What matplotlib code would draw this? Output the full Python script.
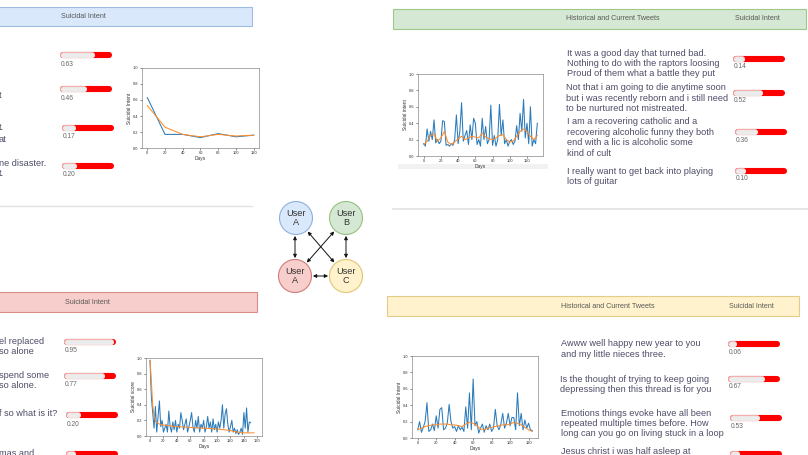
import numpy as np
import matplotlib
matplotlib.use("Agg")
import matplotlib.pyplot as plt
from matplotlib.patches import Rectangle, Circle

plt.rcParams['font.family'] = ['Liberation Sans', 'DejaVu Sans']

W, H = 808, 455

# ---------------- data ----------------
# top-left user (blue)
tl_days = [0, 20, 40, 60, 80, 100, 120]
tl_blue = [0.63, 0.17, 0.17, 0.13, 0.18, 0.14, 0.16]
tl_orange = [0.53, 0.26, 0.17, 0.14, 0.17, 0.15, 0.16]
tl_scores = [0.63, 0.46, 0.17, 0.20]
tl_fragments = ["t", "t.", "at", "ne disaster.", "t."]

# top-right user (green)
tr_days = list(range(0, 133, 2))
tr_blue = [0.15, 0.12, 0.33, 0.18, 0.30, 0.20, 0.44, 0.16, 0.20, 0.15,
           0.18, 0.43, 0.42, 0.13, 0.14, 0.12, 0.15, 0.13, 0.20, 0.50,
           0.15, 0.30, 0.65, 0.18, 0.25, 0.31, 0.14, 0.38, 0.20, 0.46,
           0.40, 0.14, 0.20, 0.12, 0.46, 0.20, 0.36, 0.15, 0.20, 0.62,
           0.13, 0.25, 0.12, 0.20, 0.63, 0.25, 0.44, 0.15, 0.20, 0.12,
           0.18, 0.20, 0.14, 0.18, 0.37, 0.20, 0.52, 0.30, 0.69, 0.22,
           0.40, 0.15, 0.60, 0.12, 0.20, 0.15, 0.40]
tr_odays = list(range(0, 133, 4))
tr_orange = [0.14, 0.18, 0.25, 0.27, 0.18, 0.22, 0.30, 0.17, 0.14, 0.17,
             0.21, 0.24, 0.20, 0.22, 0.24, 0.23, 0.22, 0.28, 0.23, 0.21,
             0.20, 0.22, 0.25, 0.26, 0.20, 0.17, 0.18, 0.24, 0.30, 0.33,
             0.30, 0.24, 0.20, 0.25]
tr_tweets = ["It was a good day that turned bad.\nNothing to do with the raptors loosing\nProud of them what a battle they put",
             "Not that i am going to die anytime soon\nbut i was recently reborn and i still need\nto be nurtured not mistreated.",
             "I am a recovering catholic and a\nrecovering alcoholic funny they both\nend with a lic is alcoholic some\nkind of cult",
             "I really want to get back into playing\nlots of guitar"]
tr_scores = [0.14, 0.52, 0.36, 0.10]

# bottom-left user (red)
bl_days = list(range(0, 151, 2))
bl_blue = [0.97, 0.50, 0.30, 0.10, 0.38, 0.05, 0.25, 0.45, 0.12, 0.20,
           0.05, 0.10, 0.15, 0.05, 0.32, 0.12, 0.05, 0.18, 0.08, 0.20,
           0.05, 0.15, 0.10, 0.30, 0.20, 0.08, 0.15, 0.22, 0.05, 0.12,
           0.20, 0.30, 0.12, 0.05, 0.20, 0.10, 0.25, 0.05, 0.15, 0.10,
           0.20, 0.05, 0.12, 0.25, 0.10, 0.18, 0.05, 0.22, 0.08, 0.15,
           0.05, 0.18, 0.10, 0.20, 0.40, 0.10, 0.28, 0.35, 0.15, 0.05,
           0.12, 0.20, 0.05, 0.10, 0.03, 0.08, 0.02, 0.05, 0.10, 0.02,
           0.30, 0.10, 0.36, 0.05, 0.18, 0.17]
bl_odays = [0, 2, 4, 6, 8, 10, 15, 20, 30, 40, 60, 80, 100, 120, 130, 140, 155]
bl_orange = [0.97, 0.70, 0.40, 0.25, 0.20, 0.17, 0.15, 0.14, 0.13, 0.12,
             0.11, 0.10, 0.09, 0.07, 0.05, 0.04, 0.04]
bl_scores = [0.95, 0.77, 0.20, 0.08]
bl_fragments = ["el replaced", "so alone", "spend some", "so alone.", "f so what is it?", "mas and"]

# bottom-right user (yellow)
br_days = list(range(0, 125, 2))
br_blue = [0.10, 0.20, 0.07, 0.13, 0.20, 0.43, 0.08, 0.10, 0.17, 0.09,
           0.27, 0.12, 0.35, 0.37, 0.10, 0.12, 0.18, 0.41, 0.20, 0.12,
           0.14, 0.08, 0.15, 0.10, 0.13, 0.08, 0.38, 0.12, 0.55, 0.10,
           0.72, 0.15, 0.20, 0.06, 0.12, 0.17, 0.07, 0.15, 0.10, 0.17,
           0.08, 0.12, 0.35, 0.15, 0.10, 0.17, 0.30, 0.12, 0.18, 0.30,
           0.15, 0.25, 0.25, 0.10, 0.55, 0.15, 0.30, 0.10, 0.22, 0.12,
           0.18, 0.10, 0.09]
br_odays = list(range(0, 125, 4))
br_orange = [0.10, 0.12, 0.14, 0.15, 0.16, 0.16, 0.17, 0.17, 0.17, 0.16,
             0.16, 0.15, 0.14, 0.17, 0.19, 0.18, 0.15, 0.11, 0.10, 0.12,
             0.13, 0.14, 0.15, 0.16, 0.16, 0.17, 0.19, 0.18, 0.16, 0.13,
             0.10, 0.08]
br_tweets = ["Awww well happy new year to you\nand my little nieces three.",
             "Is the thought of trying to keep going\ndepressing then this thread is for you",
             "Emotions things evoke have all been\nrepeated multiple times before. How\nlong can you go on living stuck in a loop",
             "Jesus christ i was half asleep at"]
br_scores = [0.06, 0.67, 0.53, 0.08]

users = ["User\nA", "User\nB", "User\nA", "User\nC"]

TXT = '#4d4d68'
HDR = '#585858'
FS = 6.6

fig = plt.figure(figsize=(W / 100, H / 100), dpi=100)
canvas = fig.add_axes([0, 0, 1, 1])
canvas.set_xlim(0, W)
canvas.set_ylim(H, 0)
canvas.axis('off')


def px_axes(x0, y0, x1, y1):
    return fig.add_axes([x0 / W, 1 - y1 / H, (x1 - x0) / W, (y1 - y0) / H])


def header(x0, y0, x1, y1, face, edge, labels):
    canvas.add_patch(Rectangle((x0, y0), x1 - x0, y1 - y0, facecolor=face,
                               edgecolor=edge, lw=0.8))
    for x, s in labels:
        canvas.text(x, (y0 + y1) / 2, s, ha='center', va='center',
                    fontsize=5.1, color=HDR)


def slider(x0, yc, v, label_dy=8):
    ax = px_axes(x0 + 3, yc - 3, x0 + 49, yc + 3)
    ax.set_xlim(0, 1)
    ax.set_ylim(-1, 1)
    ax.axis('off')
    ax.plot([0, 1], [0, 0], color='#ff0000', lw=4.4, solid_capstyle='round', clip_on=False)
    ax.plot([0, v], [0, 0], color='#f2b0b0', lw=4.4, solid_capstyle='round', clip_on=False)
    ax.plot([0, v], [0, 0], color='#ececec', lw=3.5, solid_capstyle='round', clip_on=False)
    canvas.text(x0 + 1, yc + label_dy, f"{v:.2f}", ha='left', va='center',
                fontsize=4.8, color='#666666')


def tweet(x, y, s, step=10.4):
    for i, line in enumerate(s.split("\n")):
        canvas.text(x, y + i * step, line, ha='left', va='center',
                    fontsize=FS, color=TXT)


def chart(box, days, blue, odays, orange, ylabel, xticks, xlim=None):
    ax = px_axes(*box)
    ax.plot(days, blue, color='#2b7bba', lw=0.75)
    ax.plot(odays, orange, color='#ff8c2a', lw=0.75)
    ax.set_ylim(0, 1)
    if xlim:
        ax.set_xlim(*xlim)
    ax.set_yticks(np.arange(0, 1.01, 0.2))
    ax.set_xticks(xticks)
    ax.tick_params(labelsize=2.9, length=1.5, width=0.4, pad=1, colors='#333333')
    ax.set_xlabel('Days', fontsize=3.5, labelpad=0.5, color='#333333')
    ax.set_ylabel(ylabel, fontsize=3.5, labelpad=1, color='#333333')
    for s in ax.spines.values():
        s.set_linewidth(0.5)
        s.set_color('#8a8a8a')
    return ax


# ---------------- top-left ----------------
header(-5, 7, 252, 26, '#dae8fc', '#9fbbe3', [(83, 'Suicidal Intent')])
for (x, y), v in zip([(60, 55), (60, 89), (62, 128), (62, 166)], tl_scores):
    slider(x, y, v, 9)
for y, s in zip([95, 128, 139, 163, 173], tl_fragments):
    canvas.text(-1, y, s, ha='left', va='center', fontsize=FS, color=TXT)
chart((142, 68, 259, 148), tl_days, tl_blue, tl_days, tl_orange,
      'Suicidal Intent', range(0, 121, 20))
canvas.plot([0, 252], [206, 206], color='#e2e2e2', lw=1.0)

# ---------------- top-right ----------------
header(393, 9, 806, 29, '#d5e8d4', '#9cc98a',
       [(613, 'Historical and Current Tweets'), (757, 'Suicidal Intent')])
chart((418, 74, 543, 156), tr_days, tr_blue, tr_odays, tr_orange,
      'Suicidal intent', range(0, 121, 20))
canvas.add_patch(Rectangle((398, 164), 150, 5, facecolor='#f2f2f2', edgecolor='none'))
for (x, y), s in zip([(567, 53), (566, 88), (567, 122), (567, 171)], tr_tweets):
    tweet(x, y, s)
for (x, y), v in zip([(733, 59), (733, 93), (735, 132), (735, 171)], tr_scores):
    slider(x, y, v)
canvas.plot([393, 808], [209, 209], color='#e2e2e2', lw=1.2)

# ---------------- bottom-left ----------------
header(-5, 292, 257, 312, '#f8cecc', '#d98c8a', [(87, 'Suicidal Intent')])
for (x, y), v in zip([(64, 342), (64, 376), (66, 415), (66, 454)], bl_scores):
    slider(x, y, v, 9)
for y, s in zip([342, 352, 376, 386, 414, 454], bl_fragments):
    canvas.text(-1, y, s, ha='left', va='center', fontsize=FS, color=TXT)
chart((146, 358, 262, 436), bl_days, bl_blue, bl_odays, bl_orange,
      'Suicidal score', range(0, 161, 20), xlim=(-6, 167))

# ---------------- bottom-right ----------------
header(387, 296, 799, 316, '#fff2cc', '#e3cc85',
       [(608, 'Historical and Current Tweets'), (751, 'Suicidal Intent')])
chart((412, 356, 538, 438), br_days, br_blue, br_odays, br_orange,
      'Suicidal Intent', range(0, 121, 20))
for (x, y), s in zip([(561, 344), (560, 379), (561, 413), (561, 451)], br_tweets):
    tweet(x, y, s)
for (x, y), v in zip([(728, 344), (728, 379), (730, 418), (730, 454)], br_scores):
    slider(x, y, v)

# ---------------- network diagram ----------------
centers = [(296, 218), (346, 218), (295, 276), (346, 276)]
faces = ['#dae8fc', '#d5e8d4', '#f8cecc', '#fff2cc']
edges = ['#8fb0dd', '#95c07f', '#cf7d7a', '#e0c675']
r = 16.5
for (cx, cy), fc, ec, name in zip(centers, faces, edges, users):
    canvas.add_patch(Circle((cx, cy), r, facecolor=fc, edgecolor=ec, lw=0.8, zorder=3))
    canvas.text(cx, cy, name, ha='center', va='center', fontsize=6.6,
                color='#333333', linespacing=1.0, zorder=4)

shrink = r * 0.72 + 1
for a, b in [(0, 2), (1, 3), (2, 3), (0, 3), (1, 2)]:
    (xa, ya), (xb, yb) = centers[a], centers[b]
    if a == 0 and b == 2:
        xa = xb = 295
    canvas.annotate('', xy=(xb, yb), xytext=(xa, ya),
                    arrowprops=dict(arrowstyle='<|-|>', color='#111111', lw=0.7,
                                    mutation_scale=5, shrinkA=shrink, shrinkB=shrink),
                    zorder=2)

fig.savefig('out.png', dpi=100)
